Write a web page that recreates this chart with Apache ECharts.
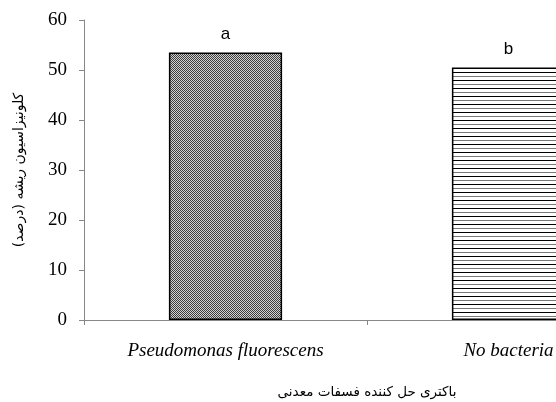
<!DOCTYPE html>
<html>
<head>
<meta charset="utf-8">
<script src="https://cdn.jsdelivr.net/npm/echarts@6/dist/echarts.min.js"></script>
<style>html,body{margin:0;padding:0;background:#fff}#c{width:556px;height:402px}</style>
</head>
<body>
<div id="c"></div>
<script>
var categories = ['Pseudomonas fluorescens', 'No bacteria'];
var values = [53.5, 50.5];
var letters = ['a', 'b'];
var yTicks = [0, 10, 20, 30, 40, 50, 60];
var yTitle = 'کلونیزاسیون ریشه (درصد)';
var xTitle = 'باکتری حل کننده فسفات معدنی';

function makeChecker() {
  var c = document.createElement('canvas');
  c.width = 2; c.height = 2;
  var g = c.getContext('2d');
  g.fillStyle = '#d2d2d2'; g.fillRect(0, 0, 2, 2);
  g.fillStyle = '#3c3c3c'; g.fillRect(0, 0, 1, 1); g.fillRect(1, 1, 1, 1);
  return c;
}
function makeLines() {
  var c = document.createElement('canvas');
  c.width = 4; c.height = 8;
  var g = c.getContext('2d');
  g.fillStyle = '#ffffff'; g.fillRect(0, 0, 4, 8);
  g.fillStyle = '#000000'; g.fillRect(0, 0, 4, 1);
  g.fillStyle = '#7a7a7a'; g.fillRect(0, 4, 4, 1);
  return c;
}
var fills = [
  {image: makeChecker(), repeat: 'repeat'},
  {image: makeLines(), repeat: 'repeat'}
];

var chart = echarts.init(document.getElementById('c'), null, {renderer: 'canvas'});
chart.setOption({
  animation: false,
  grid: {left: 84, top: 20, bottom: 82, width: 566, containLabel: false, outerBoundsMode: 'none'},
  xAxis: {
    type: 'category',
    data: categories,
    boundaryGap: true,
    axisLine: {lineStyle: {color: '#888888', width: 1}},
    axisTick: {show: true, length: 5, lineStyle: {color: '#888888'}},
    axisLabel: {
      color: '#000', fontFamily: 'Liberation Serif', fontStyle: 'italic',
      fontSize: 19, margin: 21
    },
    name: xTitle,
    nameLocation: 'middle',
    nameGap: 65,
    nameTextStyle: {color: '#000', fontFamily: 'DejaVu Sans', fontSize: 13.5, verticalAlign: 'top'}
  },
  yAxis: {
    type: 'value',
    min: yTicks[0], max: yTicks[yTicks.length - 1], interval: 10,
    splitLine: {show: false},
    axisLine: {show: true, lineStyle: {color: '#888888', width: 1}},
    axisTick: {show: true, length: 5, lineStyle: {color: '#888888'}},
    axisLabel: {color: '#000', fontFamily: 'Liberation Serif', fontSize: 19, margin: 17},
    name: yTitle,
    nameLocation: 'middle',
    nameRotate: 90,
    nameGap: 58,
    nameTextStyle: {color: '#000', fontFamily: 'DejaVu Sans', fontSize: 14}
  },
  series: [{
    type: 'bar',
    barWidth: '40%',
    data: values.map(function (v, i) {
      return {
        value: v,
        itemStyle: {color: fills[i], borderColor: '#000', borderWidth: 1.5},
        label: {show: true, position: 'top', distance: 10, formatter: letters[i],
                color: '#000', fontFamily: 'Liberation Sans Narrow, Liberation Sans', fontSize: 17}
      };
    })
  }]
});
</script>
</body>
</html>
